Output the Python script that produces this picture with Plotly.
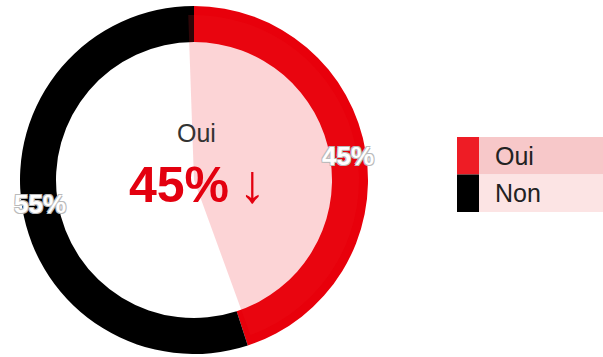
import math
import plotly.graph_objects as go

# Poll result
categories = ["Oui", "Non"]
values = [45, 55]
ring_colors = ["#e8000b", "#000000"]
swatch_colors = ["#ee1c25", "#000000"]
row_colors = ["#f7c8c9", "#fce4e4"]
highlight_color = "rgba(238, 28, 37, 0.19)"

W, H = 603, 357
CX, CY = 194, 180          # donut centre (px)
R_OUT, R_IN = 174, 138     # ring radii (px)
R_HL = 165                 # highlight wedge radius (px)
FONT = "Liberation Sans, Arial, sans-serif"


def domain_for(radius):
    return dict(
        x=[(CX - radius) / W, (CX + radius) / W],
        y=[(H - CY - radius) / H, (H - CY + radius) / H],
    )


fig = go.Figure()

# Main ring
fig.add_trace(go.Pie(
    labels=categories, values=values, sort=False, direction="clockwise",
    rotation=0, hole=R_IN / R_OUT, domain=domain_for(R_OUT),
    marker=dict(colors=ring_colors, line=dict(width=0)),
    textinfo="none", hoverinfo="label+percent", showlegend=False,
))

# Translucent highlight of the selected answer
fig.add_trace(go.Pie(
    labels=categories, values=values, sort=False, direction="clockwise",
    rotation=-2, domain=domain_for(R_HL),
    marker=dict(colors=[highlight_color, "rgba(0,0,0,0)"], line=dict(width=0)),
    textinfo="none", hoverinfo="skip", showlegend=False,
))

# Percentage labels at the middle of each ring segment
total = sum(values)
shadow = ("-1px -1px 0 #bbb, 1px -1px 0 #bbb, -1px 1px 0 #bbb, 1px 1px 0 #bbb")
annotations = []
cum = 0
r_mid = (R_IN + R_OUT) / 2
for cat, v in zip(categories, values):
    mid = (cum + v / 2) / total * 2 * math.pi
    cum += v
    px = CX + r_mid * math.sin(mid)
    py = CY - r_mid * math.cos(mid)
    annotations.append(dict(
        x=px / W, y=1 - py / H, xref="paper", yref="paper",
        text=f"<b>{round(v / total * 100)}%</b>", showarrow=False,
        font=dict(family=FONT, size=26, color="white", shadow=shadow),
        xanchor="center", yanchor="middle",
    ))

# Centre text
annotations.append(dict(
    x=(CX + 2) / W, y=1 - 133 / H, xref="paper", yref="paper",
    text=categories[0], showarrow=False,
    font=dict(family=FONT, size=25, color="#333333"),
    xanchor="center", yanchor="middle",
))
annotations.append(dict(
    x=(CX + 3) / W, y=1 - 183 / H, xref="paper", yref="paper",
    text=f"<b>{values[0]}%</b>\u2009<span style='font-size:54px'>↓</span>",
    showarrow=False,
    font=dict(family=FONT, size=50, color="#e3000f"),
    xanchor="center", yanchor="middle",
))

# Legend rows
shapes = []
LX, SW, BG_END, ROW_TOP, ROW_H = 457, 22, 603, 137, 37.5
for i, cat in enumerate(categories):
    y0 = ROW_TOP + i * ROW_H
    y1 = y0 + ROW_H
    shapes.append(dict(type="rect", xref="paper", yref="paper",
                       x0=LX / W, x1=(LX + SW) / W, y0=1 - y1 / H, y1=1 - y0 / H,
                       fillcolor=swatch_colors[i], line=dict(width=0)))
    shapes.append(dict(type="rect", xref="paper", yref="paper",
                       x0=(LX + SW) / W, x1=BG_END / W, y0=1 - y1 / H, y1=1 - y0 / H,
                       fillcolor=row_colors[i], line=dict(width=0)))
    annotations.append(dict(
        x=493 / W, y=1 - (y0 + ROW_H / 2) / H, xref="paper", yref="paper",
        text=cat, showarrow=False,
        font=dict(family=FONT, size=25, color="#222222"),
        xanchor="left", yanchor="middle",
    ))

fig.update_layout(
    width=W, height=H, margin=dict(l=0, r=0, t=0, b=0),
    paper_bgcolor="white", plot_bgcolor="white",
    annotations=annotations, shapes=shapes, showlegend=False,
)

fig.write_html("out.html")
